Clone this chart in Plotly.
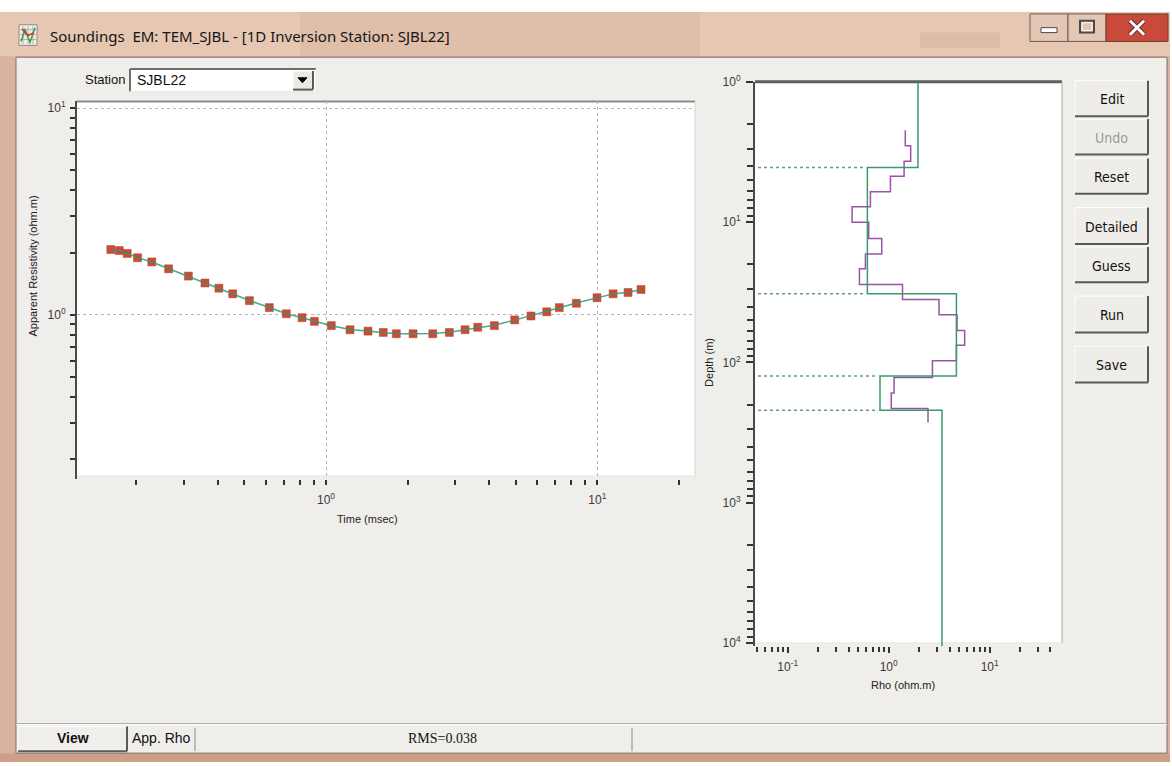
import plotly.graph_objects as go

W, H = 1172, 766

# ---------------- data ----------------
# Left chart: apparent resistivity sounding curve
time_ms = [0.161, 0.173, 0.185, 0.202, 0.228, 0.263, 0.311, 0.358, 0.403, 0.453,
           0.522, 0.618, 0.714, 0.816, 0.906, 1.046, 1.226, 1.428, 1.626, 1.816,
           2.093, 2.474, 2.848, 3.254, 3.624, 4.173, 4.961, 5.696, 6.510, 7.243,
           8.369, 9.975, 11.43, 12.98, 14.49]
rho_obs = [2.069, 2.046, 1.981, 1.889, 1.802, 1.669, 1.539, 1.425, 1.345, 1.263,
           1.170, 1.083, 1.011, 0.968, 0.929, 0.886, 0.846, 0.833, 0.821, 0.809,
           0.809, 0.809, 0.821, 0.846, 0.870, 0.886, 0.944, 0.986, 1.033, 1.083,
           1.137, 1.209, 1.263, 1.282, 1.325]
rho_calc = [2.060, 2.040, 1.978, 1.890, 1.800, 1.672, 1.540, 1.427, 1.344, 1.262,
            1.172, 1.084, 1.012, 0.967, 0.930, 0.885, 0.848, 0.832, 0.820, 0.810,
            0.808, 0.811, 0.822, 0.845, 0.868, 0.889, 0.942, 0.988, 1.035, 1.082,
            1.140, 1.207, 1.262, 1.285, 1.323]

# Right chart: layered model (green) and detailed model (purple)
model_rho = [1.95, 0.615, 4.68, 0.82, 3.37]
model_bounds = [4.08, 32.4, 124.8, 219.7]
detail_rho = [1.46, 1.65, 1.42, 1.04, 0.659, 0.434, 0.634, 0.853, 0.588, 0.513,
              1.37, 3.15, 4.75, 5.65, 4.68, 2.71, 1.13, 1.06, 2.45]
detail_depths = [2.22, 2.86, 3.68, 4.72, 6.08, 7.79, 10.03, 13.12, 16.9, 21.5,
                 27.9, 35.7, 45.8, 59.3, 75.6, 97.3, 128, 165, 213, 268]

left_x_major = [1, 10]
left_x_labels = ["10<sup>0</sup>", "10<sup>1</sup>"]
left_x_minor = [0.2, 0.3, 0.4, 0.5, 0.6, 0.7, 0.8, 0.9, 2, 3, 4, 5, 6, 7, 8, 9, 20]
left_y_major = [1, 10]
left_y_labels = ["10<sup>0</sup>", "10<sup>1</sup>"]
left_y_minor = [0.2, 0.3, 0.4, 0.5, 0.6, 0.7, 0.8, 0.9, 2, 3, 4, 5, 6, 7, 8, 9]
right_x_major = [0.1, 1, 10]
right_x_labels = ["10<sup>-1</sup>", "10<sup>0</sup>", "10<sup>1</sup>"]
right_x_minor = [0.05, 0.06, 0.07, 0.08, 0.09, 0.2, 0.3, 0.4, 0.5, 0.6, 0.7, 0.8, 0.9,
                 2, 3, 4, 5, 6, 7, 8, 9, 20, 30, 40]
right_y_major = [1, 10, 100, 1000, 10000]
right_y_labels = ["10<sup>0</sup>", "10<sup>1</sup>", "10<sup>2</sup>", "10<sup>3</sup>", "10<sup>4</sup>"]
right_y_minor = [m * d for d in [1, 10, 100, 1000] for m in [2, 3, 4, 5, 6, 7, 8, 9]]

buttons = [("Edit", 73, 109, True), ("Undo", 112, 148, False), ("Reset", 152, 188, True),
           ("Detailed", 202, 239, True), ("Guess", 242, 278, True), ("Run", 292, 329, True),
           ("Save", 343, 380, True)]

# ---------------- helpers ----------------
def X(px):
    return px / W

def Y(py):
    return 1 - py / H

shapes = []
annotations = []

def rect(x0, y0, x1, y1, fill, line=None, lw=0, layer="below"):
    shapes.append(dict(type="rect", xref="paper", yref="paper",
                       x0=X(x0), x1=X(x1), y0=Y(y1), y1=Y(y0),
                       fillcolor=fill, line=dict(color=line or fill, width=lw), layer=layer))

def seg(x0, y0, x1, y1, color, w=1, layer="below"):
    shapes.append(dict(type="line", xref="paper", yref="paper",
                       x0=X(x0), x1=X(x1), y0=Y(y0), y1=Y(y1),
                       line=dict(color=color, width=w), layer=layer))

def text(x, y, s, size=13, color="#111", family="Liberation Sans, Arial, sans-serif",
         xanchor="center", angle=0, bold=False):
    if bold:
        s = "<b>" + s + "</b>"
    annotations.append(dict(x=X(x), y=Y(y), xref="paper", yref="paper", text=s,
                            showarrow=False, xanchor=xanchor, yanchor="middle",
                            textangle=angle, font=dict(size=size, color=color, family=family)))

def raised(x0, y0, x1, y1, fill="#f0eeea"):
    rect(x0, y0, x1, y1, fill)
    seg(x0, y0, x1, y0, "#ffffff", 1)
    seg(x0, y0, x0, y1, "#ffffff", 1)
    seg(x0, y1, x1, y1, "#5a5a5a", 2)
    seg(x1, y0, x1, y1, "#5a5a5a", 2)

# ---------------- window chrome ----------------
rect(0, 3, 1170, 766, "#d9b39e")                 # outer frame
rect(0, 3, 1170, 48, "#e6c7b2")                  # title bar
rect(300, 3, 700, 48, "rgba(200,160,140,0.22)")
rect(920, 24, 1000, 40, "rgba(150,110,95,0.12)")
rect(0, 757, 1170, 766, "#cf9e88")
rect(16, 49, 1167, 757, "#f0eeea", "#7c6e64", 1)  # client area

# title icon
rect(19, 16, 37, 37, "#f3efe6", "#8c8c8c", 1)
for gx in [23, 28, 33]:
    seg(gx, 17, gx, 36, "#b0b0b0", 1)
for gy in [21, 26, 31]:
    seg(20, gy, 36, gy, "#b0b0b0", 1)
shapes.append(dict(type="path", xref="paper", yref="paper", layer="below",
                   path="M %f %f L %f %f L %f %f L %f %f" % (X(21), Y(33), X(25), Y(21), X(30), Y(34), X(35), Y(19)),
                   line=dict(color="#3c9a4a", width=1.5)))
shapes.append(dict(type="path", xref="paper", yref="paper", layer="below",
                   path="M %f %f L %f %f L %f %f" % (X(22), Y(20), X(28), Y(27), X(34), Y(24)),
                   line=dict(color="#c23a2a", width=1.5)))
text(48, 27, "Soundings  EM: TEM_SJBL - [1D Inversion Station: SJBL22]", size=15,
     color="#151515", family="Noto Sans, Open Sans, sans-serif", xanchor="left")

# caption buttons
rect(1030, 5, 1068, 33, "#e3c6b3", "#6e5d52", 1)
rect(1068, 5, 1106, 33, "#e3c6b3", "#6e5d52", 1)
rect(1106, 5, 1168, 33, "#c94a3b", "#6e3a30", 1)
rect(1041, 19, 1057, 24, "#ffffff", "#4a4a4a", 1)
rect(1080, 12, 1094, 24, "rgba(0,0,0,0)", "#4a4a4a", 2)
rect(1082, 14, 1092, 22, "rgba(0,0,0,0)", "#ffffff", 1)
seg(1130, 12, 1144, 26, "#5a2a22", 5)
seg(1130, 26, 1144, 12, "#5a2a22", 5)
seg(1130, 12, 1144, 26, "#ffffff", 3)
seg(1130, 26, 1144, 12, "#ffffff", 3)

# station combo
text(127, 72, "Station", size=13, xanchor="right", color="#111")
rect(130, 61, 316, 84, "#ffffff")
seg(130, 61, 316, 61, "#6e6e6e", 2)
seg(130, 61, 130, 84, "#6e6e6e", 2)
seg(130, 84, 316, 84, "#e8e8e8", 1)
seg(316, 61, 316, 84, "#e8e8e8", 1)
text(135, 72, "SJBL22", size=14, xanchor="left", color="#111")
raised(293, 63, 313, 82, "#ece9e4")
shapes.append(dict(type="path", xref="paper", yref="paper", layer="below",
                   path="M %f %f L %f %f L %f %f Z" % (X(298), Y(70), X(307), Y(70), X(302.5), Y(75)),
                   fillcolor="#000000", line=dict(color="#000000", width=1)))

# right-side buttons
for lab, y0, y1, en in buttons:
    raised(1075, y0, 1148, y1, "#efede9")
    text(1111.5, (y0 + y1) / 2 + 1, lab, size=14,
         color="#111" if en else "#9a9a9a",
         family="Liberation Sans Narrow, Arial Narrow, DejaVu Sans Condensed, sans-serif")

# status bar
seg(16, 727, 1167, 727, "#a0a0a0", 1)
seg(16, 728, 1167, 728, "#ffffff", 1)
raised(18, 730, 127, 755, "#f0eeea")
text(73, 742, "View", size=14, bold=True)
text(161, 742, "App. Rho", size=14)
seg(195, 731, 195, 755, "#8a8a8a", 1)
text(442, 742, "RMS=0.038", size=14, family="Liberation Serif, Times New Roman, serif")
seg(632, 731, 632, 755, "#8a8a8a", 1)

# ---------------- plot areas ----------------
rect(77, 94, 695, 475, "#ffffff")
seg(77, 94, 695, 94, "#8c8c8c", 2)
seg(695, 94, 695, 475, "#d4d4d4", 1)
seg(77, 475, 695, 475, "#e4e4e4", 1)
rect(755, 74, 1062, 645, "#ffffff")
seg(755, 74, 1062, 74, "#5e5e5e", 3)
seg(1062, 74, 1062, 645, "#a8a8a8", 1)
seg(755, 645, 1062, 645, "#e4e4e4", 1)

# axis titles
text(33, 262, "Apparent Resistivity (ohm.m)", size=11, angle=-90, color="#222")
text(367, 519, "Time (msec)", size=11, color="#222")
text(709, 360, "Depth (m)", size=11, angle=-90, color="#222")
text(903, 688, "Rho (ohm.m)", size=11, color="#222")

# ---------------- traces ----------------
fig = go.Figure()

fig.add_trace(go.Scatter(x=time_ms, y=rho_obs, mode="markers",
                         marker=dict(symbol="square", size=8, color="#cc4a36",
                                     line=dict(color="#b8442f", width=0.5)),
                         xaxis="x", yaxis="y", showlegend=False))
fig.add_trace(go.Scatter(x=time_ms, y=rho_calc, mode="lines",
                         line=dict(color="#2f9a74", width=1.5),
                         opacity=0.85, xaxis="x", yaxis="y", showlegend=False))

def steps(rhos, edges):
    xs, ys = [], []
    for i, r in enumerate(rhos):
        xs += [r, r]
        ys += [edges[i], edges[i + 1]]
    return xs, ys

xr2 = [-1.324, 1.716]
yr2 = [4.021, 0.0]
depth_top = 10 ** yr2[1]
depth_bot = 10 ** yr2[0]

mx, my = steps(model_rho, [depth_top] + model_bounds + [depth_bot])
dx, dy = steps(detail_rho, detail_depths)

x_left = 10 ** (xr2[0] + 0.03)
for i, b in enumerate(model_bounds):
    fig.add_trace(go.Scatter(x=[x_left, min(model_rho[i], model_rho[i + 1]) * 0.96], y=[b, b],
                             mode="lines", line=dict(color="#5f9f84", width=1.5, dash="dot"),
                             xaxis="x2", yaxis="y2", showlegend=False))

fig.add_trace(go.Scatter(x=dx, y=dy, mode="lines", line=dict(color="#9a52a6", width=1.5),
                         xaxis="x2", yaxis="y2", showlegend=False))
fig.add_trace(go.Scatter(x=mx, y=my, mode="lines", line=dict(color="#3a9a6e", width=1.5),
                         xaxis="x2", yaxis="y2", showlegend=False))

tickfont = dict(size=12, color="#3a3a3a", family="Liberation Sans, Arial, sans-serif")

fig.update_layout(
    width=W, height=H,
    margin=dict(l=0, r=0, t=0, b=0),
    paper_bgcolor="#ffffff",
    plot_bgcolor="rgba(0,0,0,0)",
    showlegend=False,
    shapes=shapes,
    annotations=annotations,
    xaxis=dict(type="log", domain=[X(77), X(695)], range=[-0.9178, 1.360], anchor="y",
               tickmode="array", tickvals=left_x_major, ticktext=left_x_labels,
               ticks="outside", ticklen=5, tickwidth=1.5, tickcolor="#333",
               showgrid=True, gridcolor="#b4b4b4", griddash="dot", gridwidth=1,
               showline=False, zeroline=False, tickfont=tickfont, ticklabelstandoff=5,
               minor=dict(tickmode="array", tickvals=left_x_minor, ticks="outside",
                          ticklen=5, tickwidth=1.5, tickcolor="#333", showgrid=False),
               fixedrange=True),
    yaxis=dict(type="log", domain=[Y(478), Y(94)], range=[-0.795, 1.0333], anchor="x",
               tickmode="array", tickvals=left_y_major, ticktext=left_y_labels,
               ticks="outside", ticklen=5, tickwidth=1.5, tickcolor="#333",
               showgrid=True, gridcolor="#b4b4b4", griddash="dot", gridwidth=1,
               showline=True, linecolor="#4a4a4a", linewidth=2, zeroline=False,
               tickfont=tickfont, ticklabelstandoff=2,
               minor=dict(tickmode="array", tickvals=left_y_minor, ticks="outside",
                          ticklen=5, tickwidth=1.5, tickcolor="#333", showgrid=False),
               fixedrange=True),
    xaxis2=dict(type="log", domain=[X(755), X(1062)], range=xr2, anchor="y2",
                tickmode="array", tickvals=right_x_major, ticktext=right_x_labels,
                ticks="outside", ticklen=6, tickwidth=1.5, tickcolor="#333",
                showgrid=False, showline=False, zeroline=False, tickfont=tickfont,
                ticklabelstandoff=4,
                minor=dict(tickmode="array", tickvals=right_x_minor, ticks="outside",
                           ticklen=5, tickwidth=1.5, tickcolor="#333", showgrid=False),
                fixedrange=True),
    yaxis2=dict(type="log", domain=[Y(648), Y(74)], range=yr2, anchor="x2",
                tickmode="array", tickvals=right_y_major, ticktext=right_y_labels,
                ticks="outside", ticklen=7, tickwidth=1.5, tickcolor="#333",
                showgrid=False, showline=True, linecolor="#4a4a4a", linewidth=2,
                zeroline=False, tickfont=tickfont, ticklabelstandoff=3,
                minor=dict(tickmode="array", tickvals=right_y_minor, ticks="outside",
                           ticklen=6, tickwidth=1.5, tickcolor="#333", showgrid=False),
                fixedrange=True),
)

fig.write_html("out.html", config={"displayModeBar": False})
